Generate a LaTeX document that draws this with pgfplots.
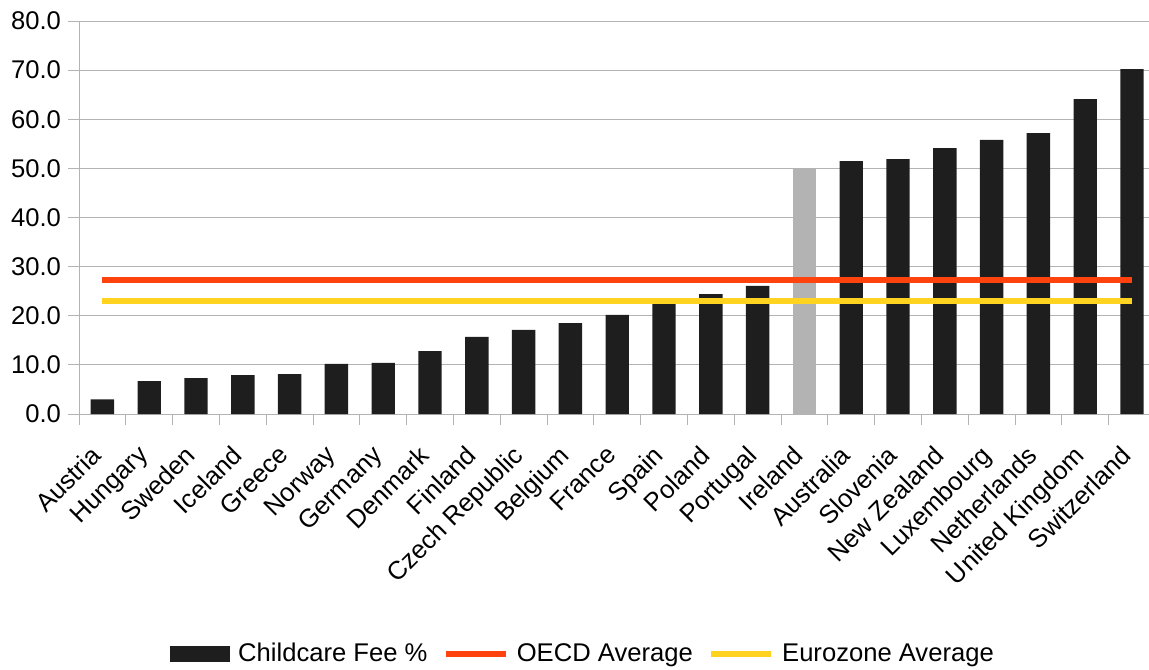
\documentclass[border=0pt]{standalone}
\usepackage{pgfplots}
\pgfplotsset{compat=1.18}
\usepackage{fontspec}
\setmainfont{Liberation Sans}

\definecolor{feebar}{HTML}{1E1E1E}
\definecolor{irlbar}{HTML}{B3B3B3}
\definecolor{oecdred}{HTML}{FF420E}
\definecolor{ezyellow}{HTML}{FFD320}
\definecolor{gridgray}{HTML}{B3B3B3}

\begin{document}
\begin{tikzpicture}[font=\fontsize{12.8}{15.4}\selectfont]
\useasboundingbox (0,0) rectangle (574.5pt,334.5pt);
\begin{axis}[
  at={(39.5pt,127.5pt)}, anchor=south west,
  scale only axis, width=538.2pt, height=196.5pt,
  xmin=-0.5, xmax=22.5, ymin=0, ymax=80,
  axis x line*=bottom, axis y line*=left,
  axis line style={-, draw=gridgray, line width=0.5pt},
  ytick={0,10,...,80},
  yticklabel style={/pgf/number format/.cd, fixed, fixed zerofill, precision=1, assume math mode=true},
  ymajorgrids, major grid style={draw=gridgray, line width=0.5pt},
  tick align=outside, major tick length=5.5pt,
  tick style={draw=gridgray, line width=0.5pt},
  xtick={-0.5,0.5,...,22.5}, xticklabel=\empty,
  extra x ticks={0,1,...,22},
  extra x tick labels={Austria,Hungary,Sweden,Iceland,Greece,Norway,Germany,Denmark,Finland,Czech Republic,Belgium,France,Spain,Poland,Portugal,Ireland,Australia,Slovenia,New Zealand,Luxembourg,Netherlands,United Kingdom,Switzerland},
  extra x tick style={tick style={draw=none},
    xticklabel style={rotate=45, anchor=north east, inner sep=0pt, xshift=-11pt, yshift=-2.1pt}},
  legend style={at={(axis description cs:0.4710,-0.6107)}, anchor=center,
    draw=none, fill=none, legend columns=3, inner sep=0pt,
    /tikz/every even column/.append style={column sep=3.7pt},
    nodes={inner ysep=2pt, inner xsep=4pt}},
  legend cell align=left,
]
% fee as a share of income, by country
\addplot[ybar, bar width=0.5, bar shift=0pt, fill=feebar, draw=none,
  legend image code/.code={\fill[feebar] (0pt,-4pt) rectangle (30pt,4pt);}]
  coordinates {(0,3.0) (1,6.7) (2,7.3) (3,7.9) (4,8.1) (5,10.2) (6,10.4) (7,12.8)
    (8,15.7) (9,17.1) (10,18.5) (11,20.2) (12,22.5) (13,24.4) (14,26.1)
    (16,51.5) (17,51.9) (18,54.1) (19,55.8) (20,57.2) (21,64.1) (22,70.2)};
\addlegendentry{Childcare Fee \%}
% Ireland highlighted
\addplot[ybar, bar width=0.5, bar shift=0pt, fill=irlbar, draw=none, forget plot]
  coordinates {(15,50.0)};
\addplot[oecdred, line width=3pt, mark=none,
  legend image code/.code={\draw[oecdred, line width=3pt] (0pt,0pt) -- (30pt,0pt);}]
  coordinates {(0,27.3) (22,27.3)};
\addlegendentry{OECD Average}
\addplot[ezyellow, line width=3pt, mark=none,
  legend image code/.code={\draw[ezyellow, line width=3pt] (0pt,0pt) -- (30pt,0pt);}]
  coordinates {(0,23.0) (22,23.0)};
\addlegendentry{Eurozone Average}
\end{axis}
\end{tikzpicture}
\end{document}
